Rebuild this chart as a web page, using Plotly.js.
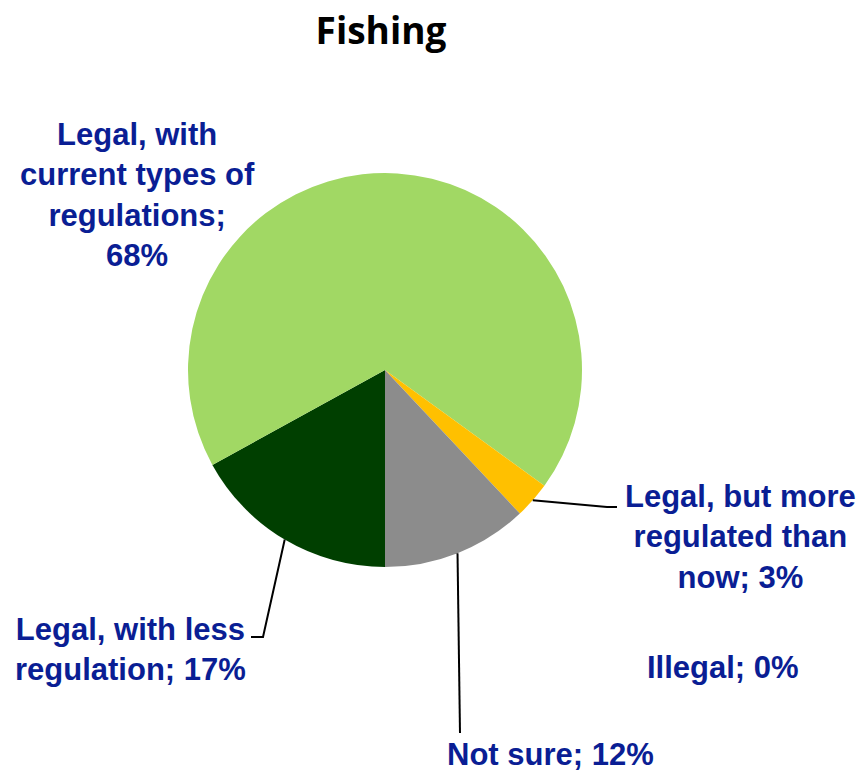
<!DOCTYPE html>
<html>
<head>
<meta charset="utf-8">
<script src="https://cdn.plot.ly/plotly-3.0.1.min.js"></script>
<style>html,body{margin:0;padding:0;background:#fff;}#chart{width:861px;height:773px;}</style>
</head>
<body>
<div id="chart"></div>
<script>
// Data (clockwise from 6 o'clock)
const categories = [
  "Legal, with less regulation",
  "Legal, with current types of regulations",
  "Legal, but more regulated than now",
  "Illegal",
  "Not sure"
];
const values = [17, 68, 3, 0, 12];
const labelTexts = [
  "Legal, with less<br>regulation; 17%",
  "Legal, with<br>current types of<br>regulations;<br>68%",
  "Legal, but more<br>regulated than<br>now; 3%",
  "Illegal; 0%",
  "Not sure; 12%"
];
const colors = ["#003f00", "#a1d864", "#ffc000", "#4472c4", "#8c8c8c"];

// Layout geometry
const W = 861, H = 773;
const cx = 385, cy = 370, R = 197;
const labelPos = [[130, 649], [137, 195], [740, 537], [723, 667], [550, 754]];
// leader-line elbows (null = no line)
const elbows = [
  [[263, 637], [251, 637]],
  null,
  [[607, 507], [617, 507]],
  null,
  [[460, 733]]
];
const labelColor = "#0a1e94";

const px = x => x / W;
const py = y => 1 - y / H;

const total = values.reduce((a, b) => a + b, 0);
let cum = 0;
const shapes = [];
const annotations = [];
values.forEach((v, i) => {
  const midFrac = (cum + v / 2) / total;
  cum += v;
  // angle measured clockwise from 6 o'clock
  const a = midFrac * 2 * Math.PI;
  const ex = cx - R * Math.sin(a);
  const ey = cy + R * Math.cos(a);
  if (elbows[i]) {
    let path = `M ${px(ex)},${py(ey)}`;
    elbows[i].forEach(p => { path += ` L ${px(p[0])},${py(p[1])}`; });
    shapes.push({type: 'path', xref: 'paper', yref: 'paper', path: path,
      line: {color: '#000', width: 2}});
  }
  annotations.push({
    xref: 'paper', yref: 'paper',
    x: px(labelPos[i][0]), y: py(labelPos[i][1]),
    xanchor: 'center', yanchor: 'middle',
    text: labelTexts[i], showarrow: false, align: 'center',
    font: {family: 'Liberation Sans, Arial, sans-serif', size: 31, color: labelColor, weight: 'bold'}
  });
});

const data = [{
  type: 'pie',
  labels: categories,
  values: values,
  sort: false,
  direction: 'clockwise',
  rotation: 180,
  marker: {colors: colors, line: {width: 0}},
  textinfo: 'none',
  hoverinfo: 'label+percent',
  domain: {x: [px(cx - R), px(cx + R)], y: [py(cy + R), py(cy - R)]}
}];

const layout = {
  width: W, height: H,
  margin: {l: 0, r: 0, t: 0, b: 0},
  paper_bgcolor: '#fff',
  showlegend: false,
  title: {
    text: 'Fishing',
    x: px(381), y: py(31), xanchor: 'center', yanchor: 'middle', xref: 'paper', yref: 'paper',
    font: {family: 'Open Sans, sans-serif', size: 37, color: '#000', weight: 'bold'}
  },
  shapes: shapes,
  annotations: annotations
};

Plotly.newPlot('chart', data, layout, {displayModeBar: false, staticPlot: true});
</script>
</body>
</html>
